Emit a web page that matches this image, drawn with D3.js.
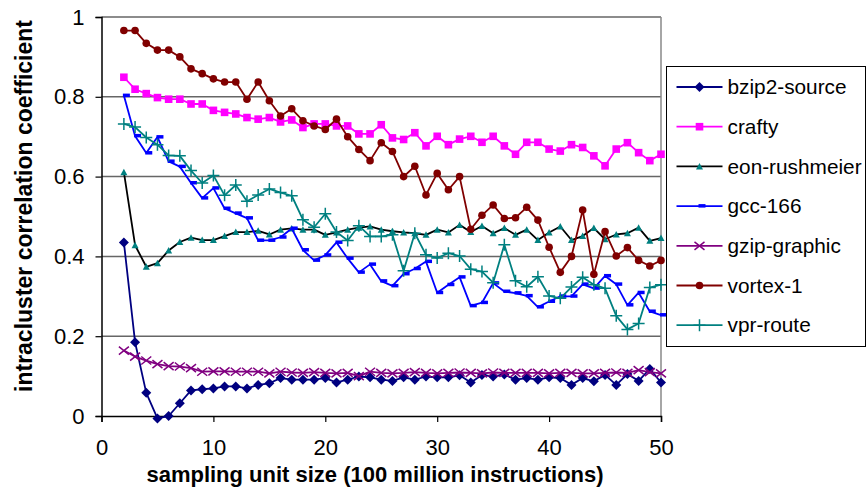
<!DOCTYPE html>
<html>
<head>
<meta charset="utf-8">
<script src="https://cdn.jsdelivr.net/npm/d3@7"></script>
<style>
  body { margin: 0; background: #fff; }
  text { font-family: "Liberation Sans", Arial, sans-serif; }
</style>
</head>
<body>
<svg width="868" height="489"></svg>
<script>
var sizes = [2,3,4,5,6,7,8,9,10,11,12,13,14,15,16,17,18,19,20,21,22,23,24,25,26,
             27,28,29,30,31,32,33,34,35,36,37,38,39,40,41,42,43,44,45,46,47,48,49,50];

var bzip2 = [0.435,0.185,0.058,-0.006,0.0,0.032,0.064,0.067,0.069,0.074,0.074,0.069,0.078,0.082,0.095,
             0.091,0.091,0.091,0.095,0.084,0.091,0.099,0.097,0.091,0.088,0.097,0.091,0.099,0.097,0.097,
             0.102,0.084,0.103,0.099,0.104,0.091,0.095,0.091,0.097,0.095,0.078,0.095,0.087,0.103,0.078,
             0.105,0.088,0.118,0.084];
var crafty = [0.849,0.819,0.808,0.798,0.794,0.794,0.782,0.782,0.766,0.761,0.757,0.748,0.744,0.748,0.737,
              0.742,0.723,0.732,0.732,0.727,0.727,0.707,0.707,0.73,0.697,0.693,0.71,0.677,0.701,0.68,
              0.694,0.701,0.686,0.701,0.677,0.656,0.686,0.686,0.669,0.664,0.68,0.673,0.652,0.627,0.669,
              0.685,0.66,0.640,0.656];
var eon = [0.611,0.428,0.374,0.383,0.415,0.436,0.447,0.441,0.441,0.451,0.461,0.461,0.464,0.455,0.467,
           0.47,0.467,0.467,0.454,0.46,0.467,0.472,0.475,0.467,0.463,0.46,0.458,0.454,0.467,0.46,
           0.479,0.461,0.476,0.458,0.471,0.454,0.467,0.441,0.46,0.475,0.441,0.451,0.471,0.443,0.455,
           0.458,0.472,0.439,0.446];
var gcc = [0.803,0.702,0.659,0.699,0.638,0.625,0.584,0.546,0.571,0.52,0.508,0.496,0.44,0.44,0.448,
           0.47,0.416,0.39,0.403,0.435,0.395,0.36,0.38,0.338,0.326,0.356,0.369,0.387,0.309,0.329,
           0.348,0.276,0.284,0.333,0.312,0.308,0.301,0.273,0.287,0.30,0.30,0.33,0.32,0.351,0.33,
           0.278,0.309,0.262,0.253];
var gzip = [0.164,0.149,0.139,0.13,0.125,0.124,0.12,0.111,0.112,0.112,0.111,0.111,0.111,0.107,0.111,
            0.109,0.108,0.11,0.108,0.107,0.108,0.1,0.111,0.108,0.107,0.108,0.11,0.108,0.107,0.108,
            0.109,0.108,0.107,0.109,0.108,0.108,0.108,0.108,0.107,0.108,0.108,0.107,0.107,0.108,0.109,
            0.108,0.115,0.11,0.107];
var vortex = [0.966,0.966,0.934,0.917,0.917,0.90,0.870,0.858,0.845,0.837,0.837,0.794,0.837,0.79,0.752,
              0.77,0.74,0.727,0.718,0.744,0.70,0.668,0.640,0.685,0.663,0.60,0.626,0.554,0.608,0.567,
              0.60,0.468,0.503,0.529,0.495,0.497,0.523,0.491,0.423,0.36,0.40,0.516,0.355,0.462,0.401,
              0.422,0.39,0.376,0.39];
var vpr = [0.732,0.724,0.698,0.68,0.653,0.652,0.615,0.584,0.603,0.553,0.579,0.538,0.554,0.569,0.56,
           0.552,0.492,0.473,0.507,0.461,0.44,0.477,0.45,0.45,0.454,0.364,0.458,0.404,0.396,0.408,
           0.401,0.368,0.362,0.334,0.429,0.339,0.324,0.349,0.301,0.295,0.323,0.348,0.329,0.32,0.251,
           0.217,0.232,0.322,0.329];

var xTicks = [0, 10, 20, 30, 40, 50];
var yTicks = [0, 0.2, 0.4, 0.6, 0.8, 1];

var series = [
  {name: "bzip2-source", values: bzip2, line: "#000080", mark: "#000080", shape: "diamond"},
  {name: "crafty", values: crafty, line: "#FF00FF", mark: "#FF00FF", shape: "square"},
  {name: "eon-rushmeier", values: eon, line: "#000000", mark: "#008080", shape: "triangle"},
  {name: "gcc-166", values: gcc, line: "#0000FF", mark: "#0000FF", shape: "dash"},
  {name: "gzip-graphic", values: gzip, line: "#800080", mark: "#800080", shape: "x"},
  {name: "vortex-1", values: vortex, line: "#800000", mark: "#800000", shape: "circle"},
  {name: "vpr-route", values: vpr, line: "#008080", mark: "#008080", shape: "plus"}
];

var svg = d3.select("svg"),
    margin = {top: 17, right: 207, bottom: 73, left: 101.5},
    width = 661 - margin.left,
    height = 416 - margin.top,
    g = svg.append("g").attr("transform", "translate(" + margin.left + "," + margin.top + ")");

var x = d3.scaleLinear().domain([0, 50]).range([0, width]);
var y = d3.scaleLinear().domain([0, 1]).range([height, 0]);

// gridlines
g.selectAll(".grid")
  .data(yTicks.filter(function(d) { return d > 0; }))
  .enter().append("line")
  .attr("x1", 0).attr("x2", width)
  .attr("y1", function(d) { return y(d); })
  .attr("y2", function(d) { return y(d); })
  .attr("stroke", "#666").attr("stroke-width", 1.5);

g.append("line")
  .attr("x1", width).attr("x2", width)
  .attr("y1", 0).attr("y2", height)
  .attr("stroke", "#888").attr("stroke-width", 1.5);

// axes
var xAxis = g.append("g")
  .attr("transform", "translate(0," + height + ")")
  .call(d3.axisBottom(x).tickValues(xTicks).tickSize(6).tickPadding(17).tickFormat(d3.format("d")));
var yAxis = g.append("g")
  .call(d3.axisLeft(y).tickValues(yTicks).tickSize(6).tickPadding(11).tickFormat(function(d) { return d === 0 || d === 1 ? d : d3.format(".1f")(d); }));

[xAxis, yAxis].forEach(function(a) {
  a.select(".domain").attr("stroke", "#000").attr("stroke-width", 1.5);
  a.selectAll(".tick line").attr("stroke", "#000").attr("stroke-width", 1.2);
  a.selectAll("text").attr("font-size", 22).attr("fill", "#000")
    .attr("font-family", "'Liberation Sans', Arial, sans-serif");
});

// lines
var line = d3.line()
  .x(function(d, i) { return x(sizes[i]); })
  .y(function(d) { return y(d); });

function marker(sel, s, cx, cy) {
  if (s.shape === "diamond") {
    sel.append("path").attr("d", "M" + cx + "," + (cy - 5) + "L" + (cx + 5) + "," + cy + "L" + cx + "," + (cy + 5) + "L" + (cx - 5) + "," + cy + "Z")
      .attr("fill", s.mark);
  } else if (s.shape === "square") {
    sel.append("rect").attr("x", cx - 3.8).attr("y", cy - 3.8).attr("width", 7.6).attr("height", 7.6).attr("fill", s.mark);
  } else if (s.shape === "triangle") {
    sel.append("path").attr("d", "M" + cx + "," + (cy - 3.5) + "L" + (cx + 3.5) + "," + (cy + 3) + "L" + (cx - 3.5) + "," + (cy + 3) + "Z")
      .attr("fill", s.mark);
  } else if (s.shape === "dash") {
    sel.append("rect").attr("x", cx - 1).attr("y", cy - 2).attr("width", 7).attr("height", 3.5).attr("fill", s.mark);
  } else if (s.shape === "x") {
    sel.append("path").attr("d", "M" + (cx - 5) + "," + (cy - 4) + "L" + (cx + 5) + "," + (cy + 4) + "M" + (cx + 5) + "," + (cy - 4) + "L" + (cx - 5) + "," + (cy + 4))
      .attr("stroke", s.mark).attr("stroke-width", 1.5).attr("fill", "none");
  } else if (s.shape === "circle") {
    sel.append("circle").attr("cx", cx).attr("cy", cy).attr("r", 3.8).attr("fill", s.mark);
  } else if (s.shape === "plus") {
    sel.append("path").attr("d", "M" + (cx - 6) + "," + cy + "L" + (cx + 6) + "," + cy + "M" + cx + "," + (cy - 6) + "L" + cx + "," + (cy + 6))
      .attr("stroke", s.mark).attr("stroke-width", 1.5).attr("fill", "none");
  }
}

series.forEach(function(s) {
  var sg = g.append("g");
  sg.append("path")
    .datum(s.values)
    .attr("d", line)
    .attr("fill", "none")
    .attr("stroke", s.line)
    .attr("stroke-width", 1.8)
    .attr("stroke-linejoin", "round");
  s.values.forEach(function(v, i) {
    marker(sg, s, x(sizes[i]), y(v));
  });
});

// axis titles
svg.append("text")
  .attr("x", 375).attr("y", 482)
  .attr("text-anchor", "middle")
  .attr("font-size", 22).attr("font-weight", "bold")
  .text("sampling unit size (100 million instructions)");

svg.append("text")
  .attr("transform", "translate(32,206) rotate(-90)")
  .attr("text-anchor", "middle")
  .attr("font-size", 23).attr("font-weight", "bold")
  .text("intracluster correlation coefficient");

// legend
var legend = svg.append("g").attr("transform", "translate(666.5,66.5)");
legend.append("rect")
  .attr("width", 199).attr("height", 280)
  .attr("fill", "#fff").attr("stroke", "#000").attr("stroke-width", 1);

series.forEach(function(s, i) {
  var ly = 20.5 + i * 39.7;
  var lg = legend.append("g");
  lg.append("line")
    .attr("x1", 10).attr("x2", 56)
    .attr("y1", ly).attr("y2", ly)
    .attr("stroke", s.line).attr("stroke-width", 1.8);
  marker(lg, s, 33, ly);
  lg.append("text")
    .attr("x", 61).attr("y", ly)
    .attr("dy", "0.35em")
    .attr("font-size", 20.8)
    .text(s.name);
});
</script>
</body>
</html>
